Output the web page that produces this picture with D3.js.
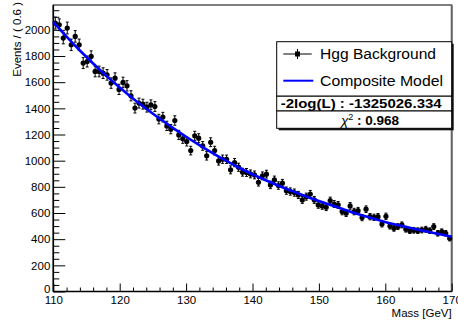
<!DOCTYPE html>
<html>
<head>
<meta charset="utf-8">
<script src="https://cdn.jsdelivr.net/npm/d3@7"></script>
<style>
  html, body { margin: 0; padding: 0; background: #fff; }
  svg { display: block; font-family: "Liberation Sans", Arial, Helvetica, sans-serif; }
</style>
</head>
<body>
<svg id="chart" width="458" height="325"></svg>
<script>
// ---------------- data ----------------
const massMin = 110, massMax = 170, binWidth = 0.6;
// Events per 0.6 GeV bin (100 bins)
const events = [
  2052, 2039, 1937, 2014, 1886, 1950, 1886, 1746, 1758, 1797,
  1682, 1682, 1669, 1656, 1593, 1631, 1545, 1598, 1572, 1496,
  1402, 1440, 1432, 1409, 1427, 1414, 1318, 1333, 1266, 1241,
  1307, 1197, 1167, 1146, 1077, 1190, 1172, 1113, 1037, 1141,
  1077,  998, 1011, 1011,  930,  985,  950,  912,  910,  899,
   891,  835,  884,  897,  815,  853,  810,  828,  771,  764,
   756,  738,  700,  725,  745,  700,  662,  654,  644,  695,
   669,  662,  611,  598,  654,  611,  618,  565,  629,  572,
   567,  572,  516,  575,  500,  483,  496,  509,  476,  465,
   468,  465,  470,  476,  465,  496,  445,  457,  445,  407
];
// Composite model curve (sampled every 2 GeV)
const modelMass = [110,112,114,116,118,120,122,124,126,128,130,132,134,136,138,140,
                   142,144,146,148,150,152,154,156,158,160,162,164,166,168,170];
const modelValues = [2060,1948,1842,1743,1648,1559,1475,1397,1322,1251,1183,1119,1058,1000,946,896,
                     850,807,767,728,692,657,623,590,560,531,506,483,461,440,419];
const yTicks = [0,200,400,600,800,1000,1200,1400,1600,1800,2000];
const xTicks = [110,120,130,140,150,160,170];
const legendLabels = ["Hgg Background", "Composite Model"];
const statLabels = ["-2log(L) : -1325026.334", "0.968"];

// ---------------- layout ----------------
const svg = d3.select("#chart");
const L = 53.3, R = 451.7, T = 5, B = 291.5;
const x = d3.scaleLinear().domain([massMin, massMax]).range([L, R]);
const y = d3.scaleLinear().domain([0, 2190]).range([B, T]);

const centers = events.map((_, i) => massMin + binWidth * (i + 0.5));

// frame
svg.append("rect").attr("x", L).attr("y", T).attr("width", R - L).attr("height", B - T)
  .attr("fill", "none").attr("stroke", "#000").attr("stroke-width", 1);
svg.append("line").attr("x1", R).attr("x2", R).attr("y1", T).attr("y2", B)
  .attr("stroke", "#666").attr("stroke-width", 2);

// y axis
const yMinor = d3.range(0, 2190, 50).filter(v => v % 200 !== 0);
svg.append("g").attr("transform", `translate(${L},0)`)
  .call(d3.axisLeft(y).tickValues(yMinor).tickSizeInner(-6).tickSizeOuter(0).tickFormat(""))
  .call(g => g.select(".domain").remove());
const gy = svg.append("g").attr("transform", `translate(${L},0)`)
  .call(d3.axisLeft(y).tickValues(yTicks).tickSizeInner(-12).tickSizeOuter(0).tickPadding(3).tickFormat(d3.format("d")));
gy.select(".domain").remove();
gy.selectAll("text").attr("font-size", 11.5).attr("fill", "#000").attr("font-family", "Liberation Sans, Arial, sans-serif");
gy.selectAll("text").filter(d => d === 0).attr("dy", "0.1em");

// x axis
const xMinor = d3.range(112, 170, 2).filter(v => v % 10 !== 0);
svg.append("g").attr("transform", `translate(0,${B})`)
  .call(d3.axisBottom(x).tickValues(xMinor).tickSizeInner(-4).tickSizeOuter(0).tickFormat(""))
  .call(g => g.select(".domain").remove());
const gx = svg.append("g").attr("transform", `translate(0,${B})`)
  .call(d3.axisBottom(x).tickValues(xTicks).tickSizeInner(-8).tickSizeOuter(0).tickPadding(4.5).tickFormat(d3.format("d")));
gx.select(".domain").remove();
gx.selectAll("text").attr("font-size", 11.5).attr("fill", "#000").attr("font-family", "Liberation Sans, Arial, sans-serif");

// axis lines (slightly heavier)
svg.append("line").attr("x1", L).attr("x2", L).attr("y1", T).attr("y2", B).attr("stroke", "#000").attr("stroke-width", 1.6);
svg.append("line").attr("x1", L).attr("x2", R).attr("y1", B).attr("y2", B).attr("stroke", "#000").attr("stroke-width", 1.6);

// axis titles
svg.append("text").attr("x", R).attr("y", 317).attr("text-anchor", "end")
  .attr("font-size", 11.5).text("Mass [GeV]");
svg.append("text").attr("transform", `translate(20.5,2) rotate(-90)`).attr("text-anchor", "end")
  .attr("font-size", 11.5).text("Events / ( 0.6 )");

// data points with Poisson errors
const pts = svg.append("g");
events.forEach((v, i) => {
  const cx = x(centers[i]);
  const e = Math.sqrt(v);
  const y1 = y(v + e), y2 = y(v - e);
  pts.append("line").attr("x1", cx).attr("x2", cx).attr("y1", y1).attr("y2", y2).attr("stroke", "#000").attr("stroke-width", 1);
  pts.append("line").attr("x1", cx - 1.5).attr("x2", cx + 1.5).attr("y1", y1).attr("y2", y1).attr("stroke", "#000").attr("stroke-width", 1);
  pts.append("line").attr("x1", cx - 1.5).attr("x2", cx + 1.5).attr("y1", y2).attr("y2", y2).attr("stroke", "#000").attr("stroke-width", 1);
  pts.append("circle").attr("cx", cx).attr("cy", y(v)).attr("r", 2.6).attr("fill", "#000");
});

// model curve
const line = d3.line().x((d, i) => x(modelMass[i])).y(d => y(d)).curve(d3.curveMonotoneX);
svg.append("path").datum(modelValues).attr("d", line)
  .attr("fill", "none").attr("stroke", "#0000ff").attr("stroke-width", 2.6);

// legend boxes
const boxL = 276.7, boxR = 451.7;
const boxes = [[41.7, 96.2], [96.2, 111], [111, 128.3]];
boxes.forEach(([t, b]) => {
  svg.append("rect").attr("x", boxL + 2).attr("y", t + 2).attr("width", boxR - boxL).attr("height", b - t).attr("fill", "#111");
});
boxes.forEach(([t, b]) => {
  svg.append("rect").attr("x", boxL).attr("y", t).attr("width", boxR - boxL).attr("height", b - t)
    .attr("fill", "#fff").attr("stroke", "#000").attr("stroke-width", 1);
});
// row 1
svg.append("line").attr("x1", 283.3).attr("x2", 311.7).attr("y1", 54).attr("y2", 54).attr("stroke", "#000").attr("stroke-width", 1);
svg.append("line").attr("x1", 297.5).attr("x2", 297.5).attr("y1", 49).attr("y2", 59).attr("stroke", "#000").attr("stroke-width", 1);
svg.append("rect").attr("x", 295).attr("y", 51.5).attr("width", 5).attr("height", 5).attr("fill", "#000");
svg.append("text").attr("x", 320).attr("y", 59).attr("font-size", 14).attr("textLength", 116).attr("lengthAdjust", "spacingAndGlyphs").text(legendLabels[0]);
// row 2
svg.append("line").attr("x1", 283.3).attr("x2", 313.3).attr("y1", 80.7).attr("y2", 80.7).attr("stroke", "#0000ff").attr("stroke-width", 2);
svg.append("text").attr("x", 320).attr("y", 85.8).attr("font-size", 14).attr("textLength", 123).attr("lengthAdjust", "spacingAndGlyphs").text(legendLabels[1]);
// row 3
svg.append("text").attr("x", 280.7).attr("y", 108).attr("font-size", 12.5).attr("font-weight", "bold")
  .attr("textLength", 161).attr("lengthAdjust", "spacingAndGlyphs").text(statLabels[0]);
// row 4
const t4 = svg.append("text").attr("x", 370).attr("y", 125).attr("text-anchor", "middle").attr("font-size", 13.5);
t4.append("tspan").attr("font-style", "italic").text("χ");
t4.append("tspan").attr("font-size", 9).attr("dy", -5).text("2");
t4.append("tspan").attr("font-weight", "bold").attr("dy", 5).text(" : " + statLabels[1]);
</script>
</body>
</html>
